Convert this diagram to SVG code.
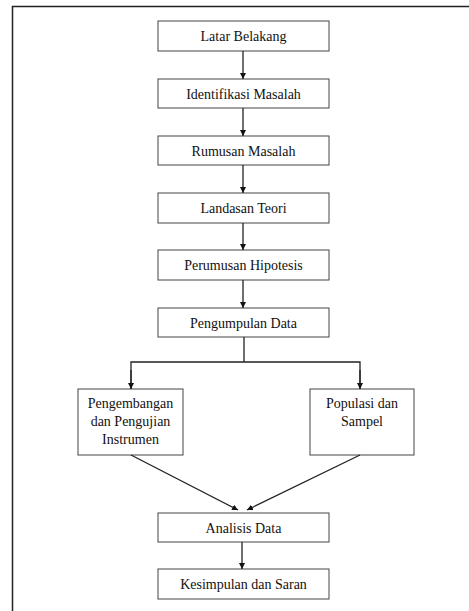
<svg xmlns="http://www.w3.org/2000/svg" width="469" height="611" viewBox="0 0 469 611">
<defs>
<style>
.box{fill:#fff;stroke:#444;stroke-width:1}
.t{font-family:'Liberation Serif','DejaVu Serif',serif;font-size:14px;fill:#111;text-anchor:middle}
.c{fill:none;stroke:#222;stroke-width:1.3}
.frame{fill:none;stroke:#222;stroke-width:1.5}
</style>
<marker id="ah" viewBox="0 0 10 10" refX="10" refY="5" markerWidth="6" markerHeight="6" markerUnits="userSpaceOnUse" orient="auto">
<path d="M0,0 L10,5 L0,10 z" fill="#111"/>
</marker>
</defs>
<rect width="469" height="611" fill="#fff"/>
<path class="frame" d="M12.5,611 V6.5 H469"/>
<g id="n1"><rect class="box" x="158" y="21" width="171" height="30"/><text class="t" x="243.5" y="41">Latar Belakang</text></g>
<g id="n2"><rect class="box" x="158" y="79" width="171" height="29"/><text class="t" x="243.5" y="98.5">Identifikasi Masalah</text></g>
<g id="n3"><rect class="box" x="158" y="136" width="171" height="29"/><text class="t" x="243.5" y="155.5">Rumusan Masalah</text></g>
<g id="n4"><rect class="box" x="158" y="193" width="171" height="30"/><text class="t" x="243.5" y="212.5">Landasan Teori</text></g>
<g id="n5"><rect class="box" x="158" y="250" width="171" height="30"/><text class="t" x="243.5" y="269.5">Perumusan Hipotesis</text></g>
<g id="n6"><rect class="box" x="158" y="308" width="171" height="29"/><text class="t" x="243.5" y="327.5">Pengumpulan Data</text></g>
<g id="n7"><rect class="box" x="78" y="389" width="105" height="66"/><text class="t" x="130.5" y="407.5">Pengembangan</text><text class="t" x="130.5" y="425.5">dan Pengujian</text><text class="t" x="130.5" y="444">Instrumen</text></g>
<g id="n8"><rect class="box" x="310" y="389" width="104" height="66"/><text class="t" x="362" y="407.5">Populasi dan</text><text class="t" x="362" y="425.5">Sampel</text></g>
<g id="n9"><rect class="box" x="158" y="513" width="171" height="29"/><text class="t" x="243.5" y="532.5">Analisis Data</text></g>
<g id="n10"><rect class="box" x="158" y="569" width="171" height="30"/><text class="t" x="243.5" y="588.5">Kesimpulan dan Saran</text></g>
<g id="connectors">
<line class="c" x1="243" y1="51" x2="243" y2="79" marker-end="url(#ah)"/>
<line class="c" x1="243" y1="108" x2="243" y2="136" marker-end="url(#ah)"/>
<line class="c" x1="243" y1="165" x2="243" y2="193" marker-end="url(#ah)"/>
<line class="c" x1="243" y1="223" x2="243" y2="250" marker-end="url(#ah)"/>
<line class="c" x1="243" y1="280" x2="243" y2="308" marker-end="url(#ah)"/>
<polyline class="c" points="244,337 244,362"/>
<polyline class="c" points="131,389 131,362 360,362 360,389"/>
<line class="c" x1="131" y1="370" x2="131" y2="389" marker-end="url(#ah)"/>
<line class="c" x1="360" y1="370" x2="360" y2="389" marker-end="url(#ah)"/>
<line class="c" x1="131" y1="455" x2="238" y2="510" marker-end="url(#ah)"/>
<line class="c" x1="360" y1="455" x2="247" y2="510" marker-end="url(#ah)"/>
<line class="c" x1="242" y1="542" x2="242" y2="569" marker-end="url(#ah)"/>
</g>
</svg>
